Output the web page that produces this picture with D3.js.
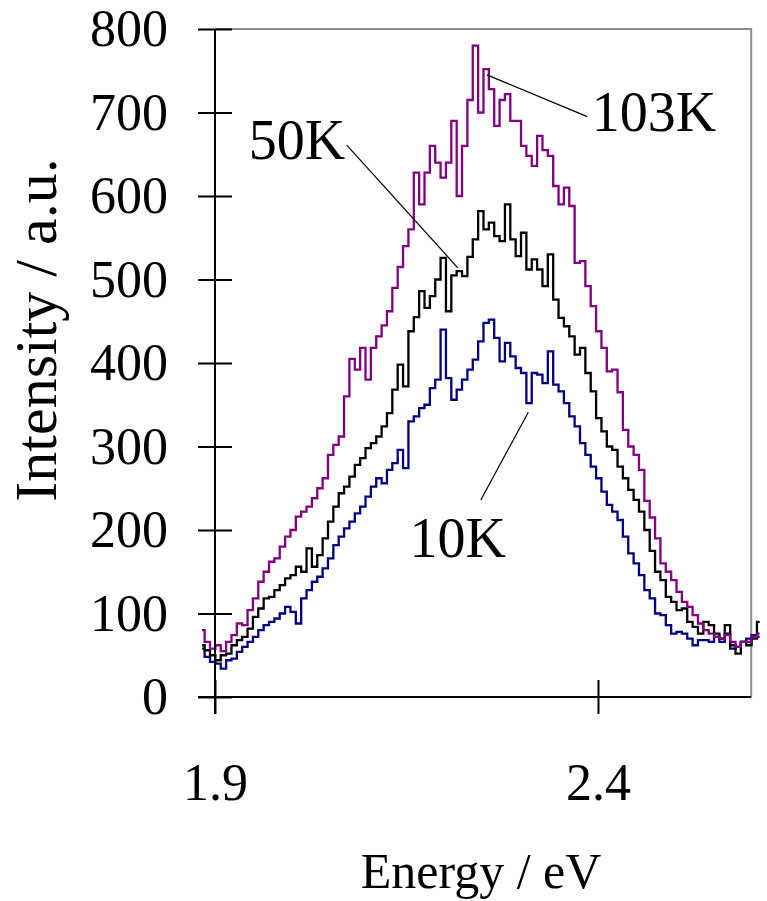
<!DOCTYPE html>
<html>
<head>
<meta charset="utf-8">
<script src="https://cdn.jsdelivr.net/npm/d3@7"></script>
<style>
  html, body { margin: 0; padding: 0; background: #fff; }
  svg { display: block; }
  text { font-family: "Liberation Serif", "Times New Roman", serif; fill: #000; }
</style>
</head>
<body>
<div id="chart"></div>
<script>
// photon energy grid (eV) shared by the three spectra
const energy = [
  1.883, 1.890, 1.897, 1.904, 1.911, 1.918, 1.925, 1.932, 1.939, 1.946,
  1.953, 1.960, 1.967, 1.974, 1.981, 1.988, 1.995, 2.002, 2.009, 2.016,
  2.023, 2.030, 2.037, 2.044, 2.051, 2.058, 2.065, 2.072, 2.079, 2.086,
  2.093, 2.100, 2.107, 2.114, 2.121, 2.128, 2.135, 2.142, 2.149, 2.156,
  2.163, 2.170, 2.177, 2.184, 2.191, 2.198, 2.205, 2.212, 2.219, 2.226,
  2.233, 2.240, 2.247, 2.254, 2.261, 2.268, 2.275, 2.282, 2.289, 2.296,
  2.303, 2.310, 2.317, 2.324, 2.331, 2.338, 2.345, 2.352, 2.359, 2.366,
  2.373, 2.380, 2.387, 2.394, 2.401, 2.408, 2.415, 2.422, 2.429, 2.436,
  2.443, 2.450, 2.457, 2.464, 2.471, 2.478, 2.485, 2.492, 2.499, 2.506,
  2.513, 2.520, 2.527, 2.534, 2.541, 2.548, 2.555, 2.562, 2.569, 2.576,
  2.583, 2.590, 2.597, 2.604, 2.611
];

const int10K = [
  58, 48, 42, 40, 34, 44, 46, 54, 60, 66,
  72, 80, 86, 90, 94, 100, 108, 102, 88, 118,
  128, 138, 144, 154, 166, 182, 192, 202, 210, 220,
  228, 240, 252, 262, 256, 272, 280, 296, 274, 330,
  336, 346, 350, 370, 380, 440, 382, 356, 368, 380,
  392, 404, 426, 448, 452, 430, 402, 424, 408, 394,
  388, 352, 388, 386, 376, 414, 374, 366, 352, 336,
  324, 304, 290, 276, 262, 246, 230, 222, 212, 192,
  172, 160, 146, 128, 118, 100, 98, 86, 76, 78,
  76, 70, 62, 68, 68, 66, 72, 66, 76, 58,
  60, 66, 70, 74, 72
];

const int50K = [
  62, 56, 50, 44, 50, 52, 62, 68, 72, 82,
  96, 106, 118, 120, 128, 134, 142, 146, 156, 150,
  178, 156, 170, 190, 210, 228, 244, 252, 264, 278,
  286, 298, 304, 312, 324, 340, 368, 398, 372, 438,
  455, 486, 466, 480, 500, 526, 462, 505, 510, 504,
  527, 548, 582, 560, 568, 552, 546, 590, 548, 528,
  556, 512, 524, 512, 492, 530, 476, 454, 444, 432,
  410, 418, 388, 366, 334, 318, 300, 296, 276, 262,
  248, 236, 222, 200, 175, 150, 140, 120, 114, 104,
  106, 90, 84, 76, 90, 86, 76, 70, 86, 62,
  52, 66, 62, 70, 90
];

const int103K = [
  80, 66, 58, 62, 55, 66, 74, 88, 86, 104,
  118, 138, 150, 162, 166, 180, 192, 200, 216, 222,
  228, 238, 250, 262, 290, 302, 312, 360, 405, 392,
  418, 380, 418, 432, 445, 462, 490, 515, 540, 560,
  628, 590, 628, 660, 640, 622, 640, 690, 600, 660,
  715, 780, 700, 752, 728, 684, 715, 722, 690, 690,
  660, 648, 636, 672, 655, 648, 612, 590, 610, 588,
  520, 522, 492, 468, 438, 418, 390, 392, 365, 320,
  300, 290, 272, 235, 215, 190, 160, 150, 140, 126,
  114, 108, 98, 88, 80, 76, 72, 70, 74, 66,
  60, 66, 66, 72, 76
];

const seriesNames = ["10K", "50K", "103K"];
const seriesColors = ["#000080", "#000000", "#800080"];

const yTicks = [0, 100, 200, 300, 400, 500, 600, 700, 800];
const xTicks = [1.9, 2.4];
const xTickLabels = ["1.9", "2.4"];

// label callouts: [label, label E, label I, line from E, I, line to E, I]
const callouts = [
  ["103K", 2.392, 678, 2.255, 745, 2.386, 695],
  ["50K", 1.944, 644, 2.072, 661, 2.217, 514],
  ["10K", 2.154, 168, 2.309, 341, 2.247, 236]
];

const W = 767, H = 901;
const xMin = 1.878, xMax = 2.6;

const svg = d3.select("#chart").append("svg")
  .attr("width", W)
  .attr("height", H);

const x = d3.scaleLinear().domain([1.9, 2.4]).range([215, 598]);
const y = d3.scaleLinear().domain([0, 800]).range([697, 29]);

// plot frame (grey top / right)
svg.append("path")
  .attr("d", `M${x(1.9)},${y(800)}H${x(xMax)}V${y(0)}`)
  .attr("fill", "none")
  .attr("stroke", "#8c8c8c")
  .attr("stroke-width", 2);

// spectra
const line = d3.line()
  .x((d, i) => x(energy[i]))
  .y(d => y(d))
  .curve(d3.curveStep);

[int10K, int50K, int103K].forEach((vals, k) => {
  svg.append("path")
    .datum(vals)
    .attr("d", line)
    .attr("fill", "none")
    .attr("stroke", seriesColors[k])
    .attr("stroke-width", 2.3)
    .attr("stroke-linejoin", "miter");
});

// y axis
const yAxis = svg.append("g")
  .attr("transform", `translate(${x(1.9)},0)`)
  .call(d3.axisLeft(y).tickValues(yTicks).tickSize(17).tickSizeOuter(0));
yAxis.select(".domain").attr("stroke-width", 2).attr("d", `M0,${y(800)}V${y(0) + 17}`);
yAxis.selectAll(".tick line").attr("x1", 17).attr("stroke-width", 2);
yAxis.selectAll(".tick text")
  .attr("x", -47)
  .style("font-size", "52px")
  .style("font-family", "'Liberation Serif', serif");

// x axis
const xAxis = svg.append("g")
  .attr("transform", `translate(0,${y(0)})`)
  .call(d3.axisBottom(x).tickValues(xTicks).tickFormat((d, i) => xTickLabels[i]).tickSize(17).tickSizeOuter(0));
xAxis.select(".domain").attr("stroke-width", 2).attr("d", `M${x(xMin)},0H${x(xMax)}`);
xAxis.selectAll(".tick line").attr("y1", -17).attr("stroke-width", 2);
xAxis.selectAll(".tick text")
  .attr("y", 103)
  .attr("dy", 0)
  .style("font-size", "52px")
  .style("font-family", "'Liberation Serif', serif");

// axis titles
svg.append("text")
  .attr("x", 481)
  .attr("y", 888)
  .attr("text-anchor", "middle")
  .style("font-size", "50px")
  .text("Energy / eV");

svg.append("text")
  .attr("transform", "translate(56,330) rotate(-90)")
  .attr("text-anchor", "middle")
  .style("font-size", "60px")
  .text("Intensity / a.u.");

// callouts
callouts.forEach(c => {
  svg.append("line")
    .attr("x1", x(c[3])).attr("y1", y(c[4]))
    .attr("x2", x(c[5])).attr("y2", y(c[6]))
    .attr("stroke", "#000")
    .attr("stroke-width", 1.2);
  svg.append("text")
    .attr("x", x(c[1]))
    .attr("y", y(c[2]))
    .style("font-size", "56px")
    .text(c[0]);
});
</script>
</body>
</html>
